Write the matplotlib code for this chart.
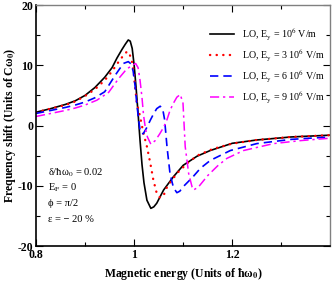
import matplotlib
matplotlib.use("Agg")
import matplotlib.pyplot as plt
from matplotlib.ticker import MultipleLocator, FixedLocator

plt.rcParams['font.family'] = ['Liberation Serif', 'DejaVu Serif']
plt.rcParams['mathtext.fontset'] = 'stix'
plt.rcParams['axes.unicode_minus'] = False

# --- data ---
E_black = [0.80, 0.83, 0.86, 0.88, 0.90, 0.92, 0.94, 0.955, 0.965, 0.975, 0.982, 0.988, 0.992, 0.996,
           1.000, 1.004, 1.008, 1.012, 1.016, 1.020, 1.026, 1.034, 1.040, 1.046, 1.060, 1.080, 1.100,
           1.128, 1.155, 1.20, 1.25, 1.32, 1.40]
v_black = [2.2, 2.8, 3.5, 4.1, 5.0, 6.3, 8.0, 9.6, 11.2, 12.6, 13.5, 14.2, 14.0, 12.8,
           10.0, 6.2, 2.0, -2.5, -6.5, -9.5, -12.4, -13.75, -13.5, -12.9, -10.7, -8.5, -6.6,
           -5.1, -4.15, -2.95, -2.4, -1.9, -1.6]

E_red = [0.80, 0.83, 0.86, 0.88, 0.90, 0.92, 0.94, 0.955, 0.965, 0.975, 0.982, 0.986, 0.990, 0.995,
         0.9986, 1.002, 1.0055, 1.012, 1.019, 1.026, 1.033, 1.039, 1.046, 1.053, 1.060, 1.067, 1.087,
         1.111, 1.131, 1.16, 1.20, 1.25, 1.32, 1.40]
v_red = [2.2, 2.8, 3.4, 4.0, 4.9, 6.0, 7.5, 9.0, 10.2, 11.3, 12.0, 12.3, 12.0, 10.8,
         9.2, 6.4, 3.7, 1.5, -1.3, -3.5, -6.3, -9.0, -11.25, -12.0, -11.6, -10.2, -7.95,
         -6.05, -4.9, -3.9, -3.0, -2.4, -1.9, -1.6]

E_blue = [0.80, 0.83, 0.86, 0.88, 0.90, 0.92, 0.94, 0.961, 0.978, 0.988, 0.994, 0.998, 1.002, 1.005,
          1.009, 1.012, 1.016, 1.019, 1.026, 1.033, 1.040, 1.046, 1.053, 1.058, 1.062, 1.067, 1.073,
          1.080, 1.087, 1.093, 1.100, 1.12, 1.135, 1.155, 1.196, 1.25, 1.32, 1.40]
v_blue = [2.0, 2.5, 3.0, 3.4, 3.9, 4.6, 5.6, 8.3, 10.3, 10.6, 10.2, 9.0, 6.5, 3.9,
          1.0, -0.75, -1.4, -1.3, -0.3, 0.9, 2.0, 2.8, 3.2, 2.8, 1.0, -3.6, -7.95,
          -10.3, -11.15, -10.9, -10.15, -8.5, -7.1, -5.8, -4.15, -3.0, -2.3, -1.9]

E_mag = [0.80, 0.83, 0.86, 0.88, 0.90, 0.924, 0.948, 0.968, 0.985, 0.995, 1.003, 1.008, 1.012, 1.016,
         1.019, 1.023, 1.027, 1.034, 1.043, 1.052, 1.060, 1.067, 1.073, 1.080, 1.087, 1.094, 1.0995,
         1.104, 1.111, 1.118, 1.121, 1.131, 1.15, 1.17, 1.189, 1.223, 1.284, 1.34, 1.40]
v_mag = [1.5, 2.0, 2.5, 2.9, 3.4, 4.2, 5.5, 7.75, 9.4, 9.9, 10.3, 9.6, 7.5, 4.6,
         1.8, -0.5, -1.9, -3.1, -2.5, -1.4, -0.3, 1.0, 2.5, 3.7, 4.7, 5.15, 3.7,
         -3.5, -7.95, -10.2, -10.7, -10.2, -8.3, -6.7, -5.45, -4.15, -3.0, -2.5, -2.1]

labels = [r"LO, E$_\mathrm{y}$ = 10$^\mathrm{6}$ V/m", r"LO, E$_\mathrm{y}$ = 3 10$^\mathrm{6}$ V/m",
          r"LO, E$_\mathrm{y}$ = 6 10$^\mathrm{6}$ V/m", r"LO, E$_\mathrm{y}$ = 9 10$^\mathrm{6}$ V/m"]
x_ticks = [0.8, 1.0, 1.2]
x_ticklabels = ["0.8", "1", "1.2"]
y_ticks = [-20, -10, 0, 10, 20]
params = [r"δ/ħω$_\mathrm{0}$ = 0.02", r"E$_\mathrm{F}$ = 0", "ϕ = π/2", "ε = − 20 %"]

fig = plt.figure(figsize=(3.32, 2.83), dpi=100)
ax = fig.add_axes([0.1084, 0.1307, 0.994 - 0.1084, 0.9823 - 0.1307])

ax.plot(E_black, v_black, color='black', lw=1.2, label=labels[0])
ax.plot(E_red, v_red, color='#ff0000', lw=1.7, linestyle=(0, (0.1, 2.7)),
        dash_capstyle='round', label=labels[1])
ax.plot(E_blue, v_blue, color='#0000ff', lw=1.2, linestyle=(0, (5, 3)), label=labels[2])
ax.plot(E_mag, v_mag, color='#ff00ff', lw=1.1, linestyle=(0, (6, 2.5, 1.5, 2.5)), label=labels[3])

ax.set_xlim(0.8, 1.399)
ax.set_ylim(-20, 20)
ax.xaxis.set_major_locator(FixedLocator(x_ticks))
ax.set_xticklabels(x_ticklabels)
ax.xaxis.set_minor_locator(MultipleLocator(0.1))
ax.yaxis.set_major_locator(FixedLocator(y_ticks))
ax.yaxis.set_minor_locator(MultipleLocator(5))
ax.tick_params(which='both', direction='in', top=True, right=True, labelsize=8.5, pad=2)
ax.tick_params(which='major', length=5, width=0.8)
ax.tick_params(which='minor', length=3, width=0.8)
for lab in ax.get_xticklabels() + ax.get_yticklabels():
    lab.set_fontweight('bold')
for s in ['left', 'bottom']:
    ax.spines[s].set_linewidth(1.2)
for s in ['top', 'right']:
    ax.spines[s].set_color('#808080')
    ax.spines[s].set_linewidth(1.0)

ax.set_xlabel(r"Magnetic energy (Units of ħω$_\mathbf{0}$)", fontsize=8.5, fontweight='bold', labelpad=4)
ax.set_ylabel(r"Frequency shift (Units of Cω$_\mathbf{0}$)", fontsize=8.5, fontweight='bold', labelpad=0)

leg = ax.legend(loc='upper right', bbox_to_anchor=(325 / 332, 1 - 26 / 283),
                bbox_transform=fig.transFigure, frameon=False, fontsize=7.2,
                handlelength=2.4, handletextpad=0.8, labelspacing=0.55,
                borderpad=0, borderaxespad=0)

ys = [173, 188, 203, 220]
for t, yp in zip(params, ys):
    fig.text(48 / 332, 1 - yp / 283, t, fontsize=7.6, va='center', ha='left')

fig.savefig("out.png", dpi=100)
